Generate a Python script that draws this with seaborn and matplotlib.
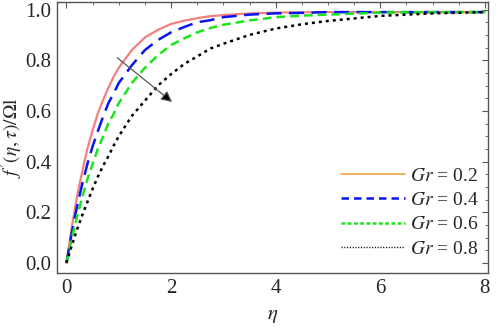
import numpy as np
import pandas as pd
import matplotlib
matplotlib.use("Agg")
import matplotlib.pyplot as plt
import seaborn as sns
from matplotlib.ticker import MultipleLocator, FormatStrFormatter
from matplotlib.lines import Line2D

eta = [0, 0.1, 0.2, 0.3, 0.4, 0.5, 0.6, 0.7, 0.8, 0.9, 1.0, 1.25, 1.5, 1.75, 2.0,
       2.25, 2.5, 2.75, 3.0, 3.5, 4.0, 4.5, 5.0, 6.0, 7.0, 8.0]
gr_02 = [0, 0.138, 0.26, 0.358, 0.45, 0.523, 0.59, 0.643, 0.69, 0.734, 0.77, 0.84, 0.89, 0.92, 0.943,
         0.956, 0.966, 0.974, 0.978, 0.985, 0.988, 0.989, 0.99, 0.99, 0.99, 0.99]
gr_04 = [0, 0.116, 0.22, 0.31, 0.39, 0.46, 0.52, 0.577, 0.63, 0.668, 0.71, 0.78, 0.84, 0.88, 0.91,
         0.931, 0.95, 0.958, 0.97, 0.98, 0.985, 0.987, 0.99, 0.99, 0.99, 0.99]
gr_06 = [0, 0.094, 0.18, 0.257, 0.33, 0.39, 0.45, 0.498, 0.55, 0.587, 0.63, 0.71, 0.77, 0.82, 0.86,
         0.886, 0.91, 0.927, 0.94, 0.957, 0.97, 0.976, 0.98, 0.988, 0.99, 0.99]
gr_08 = [0, 0.067, 0.13, 0.187, 0.24, 0.292, 0.34, 0.383, 0.42, 0.462, 0.50, 0.58, 0.64, 0.70, 0.745,
         0.785, 0.815, 0.846, 0.865, 0.90, 0.925, 0.942, 0.955, 0.975, 0.985, 0.99]

labels = ["0.2", "0.4", "0.6", "0.8"]

sns.set_style("white")
plt.rcParams['font.family'] = ['Liberation Serif', 'DejaVu Serif']
plt.rcParams['mathtext.fontset'] = 'stix'

fig, ax = plt.subplots(figsize=(4.98, 3.27), dpi=100)
fig.subplots_adjust(left=0.1145, right=0.98, bottom=0.165, top=0.994)

# curve styles as drawn in the plot
styles = [
    dict(color='#f47f7f', linestyle='-', linewidth=1.6),
    dict(color='#0a14f0', linestyle=(0, (6, 3)), linewidth=1.8),
    dict(color='#19e619', linestyle=(0, (3.5, 2)), linewidth=1.8),
    dict(color='black', linestyle=(0, (1.2, 1.6)), linewidth=1.8),
]
series = [gr_02, gr_04, gr_06, gr_08]
for vals, st in zip(series, styles):
    df = pd.DataFrame({'eta': eta, 'f': vals})
    sns.lineplot(data=df, x='eta', y='f', ax=ax, **st)

# arrow showing increasing Gr
ax.annotate('', xy=(2.02, 0.635), xytext=(0.97, 0.81),
            arrowprops=dict(arrowstyle='-|>', lw=0.9, mutation_scale=16,
                            shrinkA=0, shrinkB=0,
                            edgecolor='#555555', facecolor='black'))

# legend (first entry is orange in the original)
leg_styles = [
    dict(color='#f5a44a', linestyle='-', linewidth=1.2),
    dict(color='#0a14f0', linestyle=(0, (3, 2)), linewidth=1.8),
    dict(color='#19e619', linestyle=(0, (1.5, 1)), linewidth=1.8),
    dict(color='black', linestyle=(0, (0.8, 1.2)), linewidth=1.0),
]
handles = [Line2D([0], [0], **st) for st in leg_styles]
ax.legend(handles, [r"$Gr$ = " + l for l in labels], loc='lower right',
          frameon=False, fontsize=14, handlelength=3.3, handletextpad=0.25,
          labelspacing=0.35, borderaxespad=0.1, bbox_to_anchor=(1.0, 0.02))

ax.set_xlim(-0.18, 8.06)
ax.set_ylim(-0.04, 1.03)
ax.xaxis.set_major_locator(MultipleLocator(2))
ax.xaxis.set_minor_locator(MultipleLocator(0.5))
ax.yaxis.set_major_locator(MultipleLocator(0.2))
ax.yaxis.set_minor_locator(MultipleLocator(0.05))
ax.yaxis.set_major_formatter(FormatStrFormatter('%.1f'))
ax.tick_params(which='both', direction='in', top=True, right=True, color='#555555')
ax.tick_params(which='major', length=4, labelsize=15, pad=4)
ax.tick_params(which='minor', length=2)
for s in ax.spines.values():
    s.set_color('#555555')
    s.set_linewidth(1.0)

ax.set_xlabel(r"$\eta$", fontsize=15, labelpad=6)
ax.set_ylabel(r"$f\,'(\eta,\tau)/\Omega\mathrm{l}$", fontsize=14, labelpad=0)

plt.savefig('out.png', dpi=100)
